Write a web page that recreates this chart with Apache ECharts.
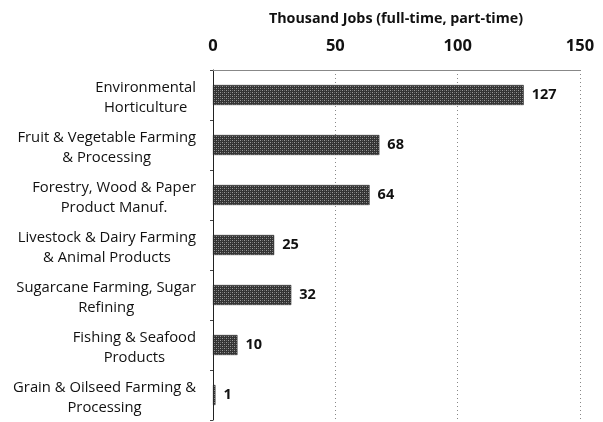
<!DOCTYPE html>
<html>
<head>
<meta charset="utf-8">
<script src="https://cdn.jsdelivr.net/npm/echarts@6/dist/echarts.min.js"></script>
<style>
  html, body { margin: 0; padding: 0; background: #fff; }
  #chart { width: 603px; height: 422px; }
</style>
</head>
<body>
<div id="chart"></div>
<script>
  // data
  const categories = [
    'Environmental\nHorticulture',
    'Fruit & Vegetable Farming\n& Processing',
    'Forestry, Wood & Paper\nProduct Manuf.',
    'Livestock & Dairy Farming\n& Animal Products',
    'Sugarcane Farming, Sugar\nRefining',
    'Fishing & Seafood\nProducts',
    'Grain & Oilseed Farming &\nProcessing',
  ]
  const jobs = [127, 68, 64, 25, 32, 10, 1]
  const xTicks = [0, 50, 100, 150]

  // small crosshatch tile for the bars
  function hatch() {
    const c = document.createElement('canvas')
    c.width = 4
    c.height = 4
    const g = c.getContext('2d')
    g.fillStyle = '#333'
    g.fillRect(0, 0, 4, 4)
    g.fillStyle = '#999'
    g.fillRect(0, 0, 1, 1)
    g.fillRect(2, 2, 1, 1)
    g.fillStyle = '#666'
    g.fillRect(2, 0, 1, 1)
    g.fillRect(0, 2, 1, 1)
    return c
  }

  const font = '"Open Sans", "Liberation Sans", sans-serif'
  const chart = echarts.init(document.getElementById('chart'))
  chart.setOption({
    animation: false,
    textStyle: { fontFamily: font },
    title: {
      text: 'Thousand Jobs (full-time, part-time)',
      left: 391,
      textAlign: 'center',
      top: 7,
      textStyle: { fontSize: 14.3, fontWeight: 'bold', color: '#111', fontFamily: font },
    },
    grid: {
      left: 213,
      right: 23,
      top: 70,
      bottom: 2,
      containLabel: false,
    },
    xAxis: {
      type: 'value',
      position: 'top',
      min: xTicks[0],
      max: xTicks[xTicks.length - 1],
      interval: 50,
      axisLine: { show: true, lineStyle: { color: '#888', width: 1 } },
      axisTick: { show: false },
      axisLabel: {
        margin: 15,
        fontSize: 16.5,
        fontWeight: 'bold',
        color: '#111',
      },
      splitLine: {
        show: true,
        lineStyle: { color: '#888', type: [1, 3], width: 1 },
      },
    },
    yAxis: {
      type: 'category',
      inverse: true,
      data: categories,
      axisLine: { show: true, lineStyle: { color: '#222', width: 1 } },
      axisTick: { show: true, length: 3, lineStyle: { color: '#444' } },
      axisLabel: {
        margin: 17,
        align: 'right',
        padding: [5, 0, 0, 0],
        formatter: (v) => v.split('\n').map((s) => '{c|' + s + '}').join('\n'),
        rich: {
          c: { align: 'center', fontSize: 14.8, lineHeight: 20, color: '#111' },
        },
      },
    },
    series: [
      {
        type: 'bar',
        data: jobs,
        barWidth: 20,
        itemStyle: {
          color: { image: hatch(), repeat: 'repeat' },
          borderColor: '#222',
          borderWidth: 0.5,
        },
        label: {
          show: true,
          position: 'right',
          distance: 8,
          fontSize: 14.5,
          fontWeight: 'bold',
          color: '#111',
        },
      },
    ],
  })
</script>
</body>
</html>
